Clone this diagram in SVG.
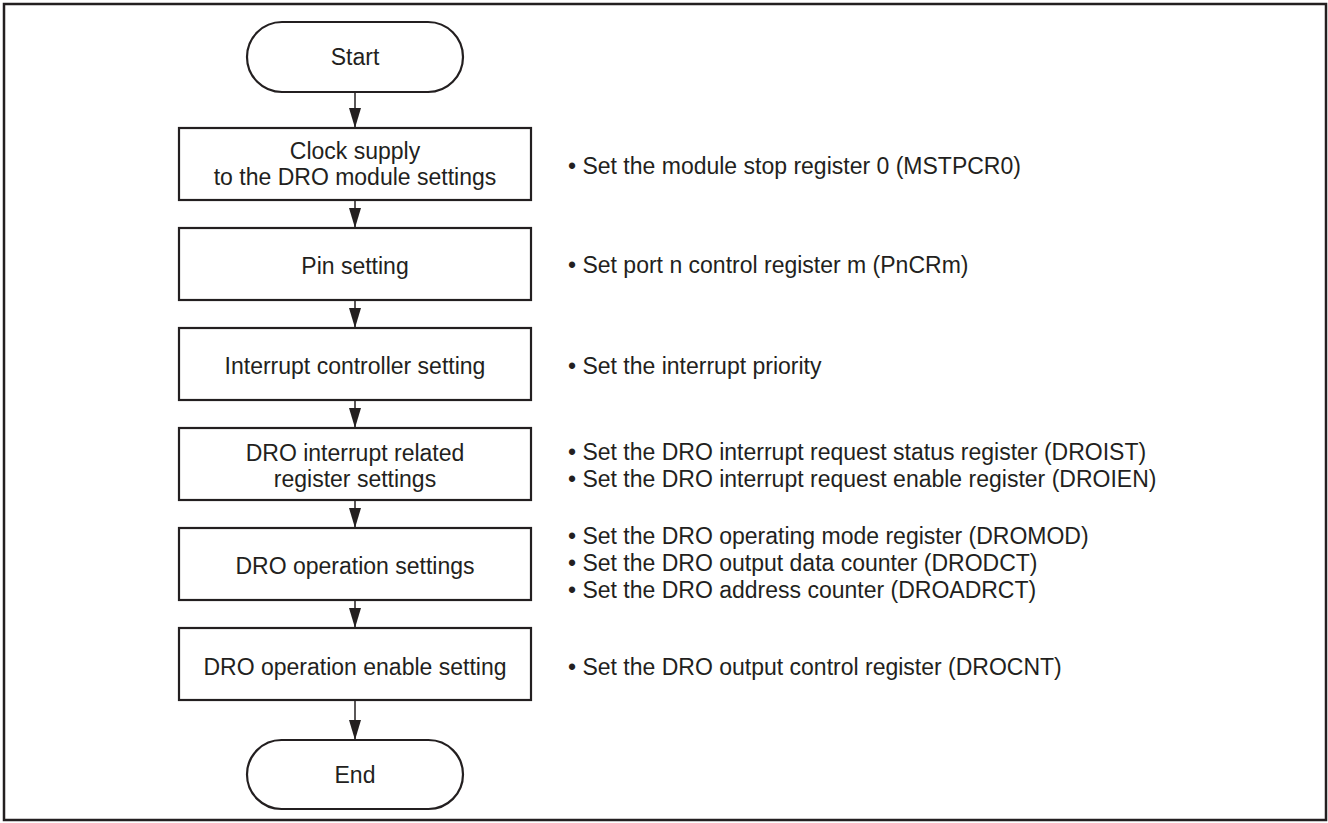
<svg xmlns="http://www.w3.org/2000/svg" width="1328" height="823" viewBox="0 0 1328 823">
<style>
.frame{fill:#fff;stroke:#231f20;stroke-width:2.5}
.box{fill:#fff;stroke:#231f20;stroke-width:2.2}
.t{font-family:"Liberation Sans",Arial,sans-serif;font-size:23px;fill:#231f20}
.c{text-anchor:middle}
.conn{stroke:#231f20;stroke-width:1.5;fill:none}
</style>
<defs>
<marker id="ah" markerUnits="userSpaceOnUse" markerWidth="20" markerHeight="12" refX="20" refY="6" orient="auto">
<path d="M0,0 L20,6 L0,12 z" fill="#231f20"/>
</marker>
</defs>
<rect class="frame" x="4" y="4" width="1322" height="816"/>
<g id="connectors">
<line class="conn" x1="355" y1="92" x2="355" y2="128" marker-end="url(#ah)"/>
<line class="conn" x1="355" y1="200" x2="355" y2="228" marker-end="url(#ah)"/>
<line class="conn" x1="355" y1="300" x2="355" y2="328" marker-end="url(#ah)"/>
<line class="conn" x1="355" y1="400" x2="355" y2="428" marker-end="url(#ah)"/>
<line class="conn" x1="355" y1="500" x2="355" y2="528" marker-end="url(#ah)"/>
<line class="conn" x1="355" y1="600" x2="355" y2="628" marker-end="url(#ah)"/>
<line class="conn" x1="355" y1="700" x2="355" y2="740" marker-end="url(#ah)"/>
</g>
<g id="start">
<rect class="box" x="247" y="22" width="216" height="70" rx="35" ry="35"/>
<text class="t c" x="355" y="65">Start</text>
</g>
<g id="clock">
<rect class="box" x="179" y="128" width="352" height="72"/>
<text class="t c" x="355" y="159">Clock supply</text>
<text class="t c" x="355" y="185">to the DRO module settings</text>
</g>
<g id="pin">
<rect class="box" x="179" y="228" width="352" height="72"/>
<text class="t c" x="355" y="274">Pin setting</text>
</g>
<g id="intc">
<rect class="box" x="179" y="328" width="352" height="72"/>
<text class="t c" x="355" y="374">Interrupt controller setting</text>
</g>
<g id="droint">
<rect class="box" x="179" y="428" width="352" height="72"/>
<text class="t c" x="355" y="461">DRO interrupt related</text>
<text class="t c" x="355" y="487">register settings</text>
</g>
<g id="droop">
<rect class="box" x="179" y="528" width="352" height="72"/>
<text class="t c" x="355" y="574">DRO operation settings</text>
</g>
<g id="droen">
<rect class="box" x="179" y="628" width="352" height="72"/>
<text class="t c" x="355" y="675">DRO operation enable setting</text>
</g>
<g id="end">
<rect class="box" x="247" y="740" width="216" height="69" rx="34.5" ry="34.5"/>
<text class="t c" x="355" y="783">End</text>
</g>
<g id="notes">
<text class="t" x="568" y="174">• Set the module stop register 0 (MSTPCR0)</text>
<text class="t" x="568" y="273">• Set port n control register m (PnCRm)</text>
<text class="t" x="568" y="374">• Set the interrupt priority</text>
<text class="t" x="568" y="460">• Set the DRO interrupt request status register (DROIST)</text>
<text class="t" x="568" y="487">• Set the DRO interrupt request enable register (DROIEN)</text>
<text class="t" x="568" y="544">• Set the DRO operating mode register (DROMOD)</text>
<text class="t" x="568" y="571">• Set the DRO output data counter (DRODCT)</text>
<text class="t" x="568" y="598">• Set the DRO address counter (DROADRCT)</text>
<text class="t" x="568" y="675">• Set the DRO output control register (DROCNT)</text>
</g>
</svg>
